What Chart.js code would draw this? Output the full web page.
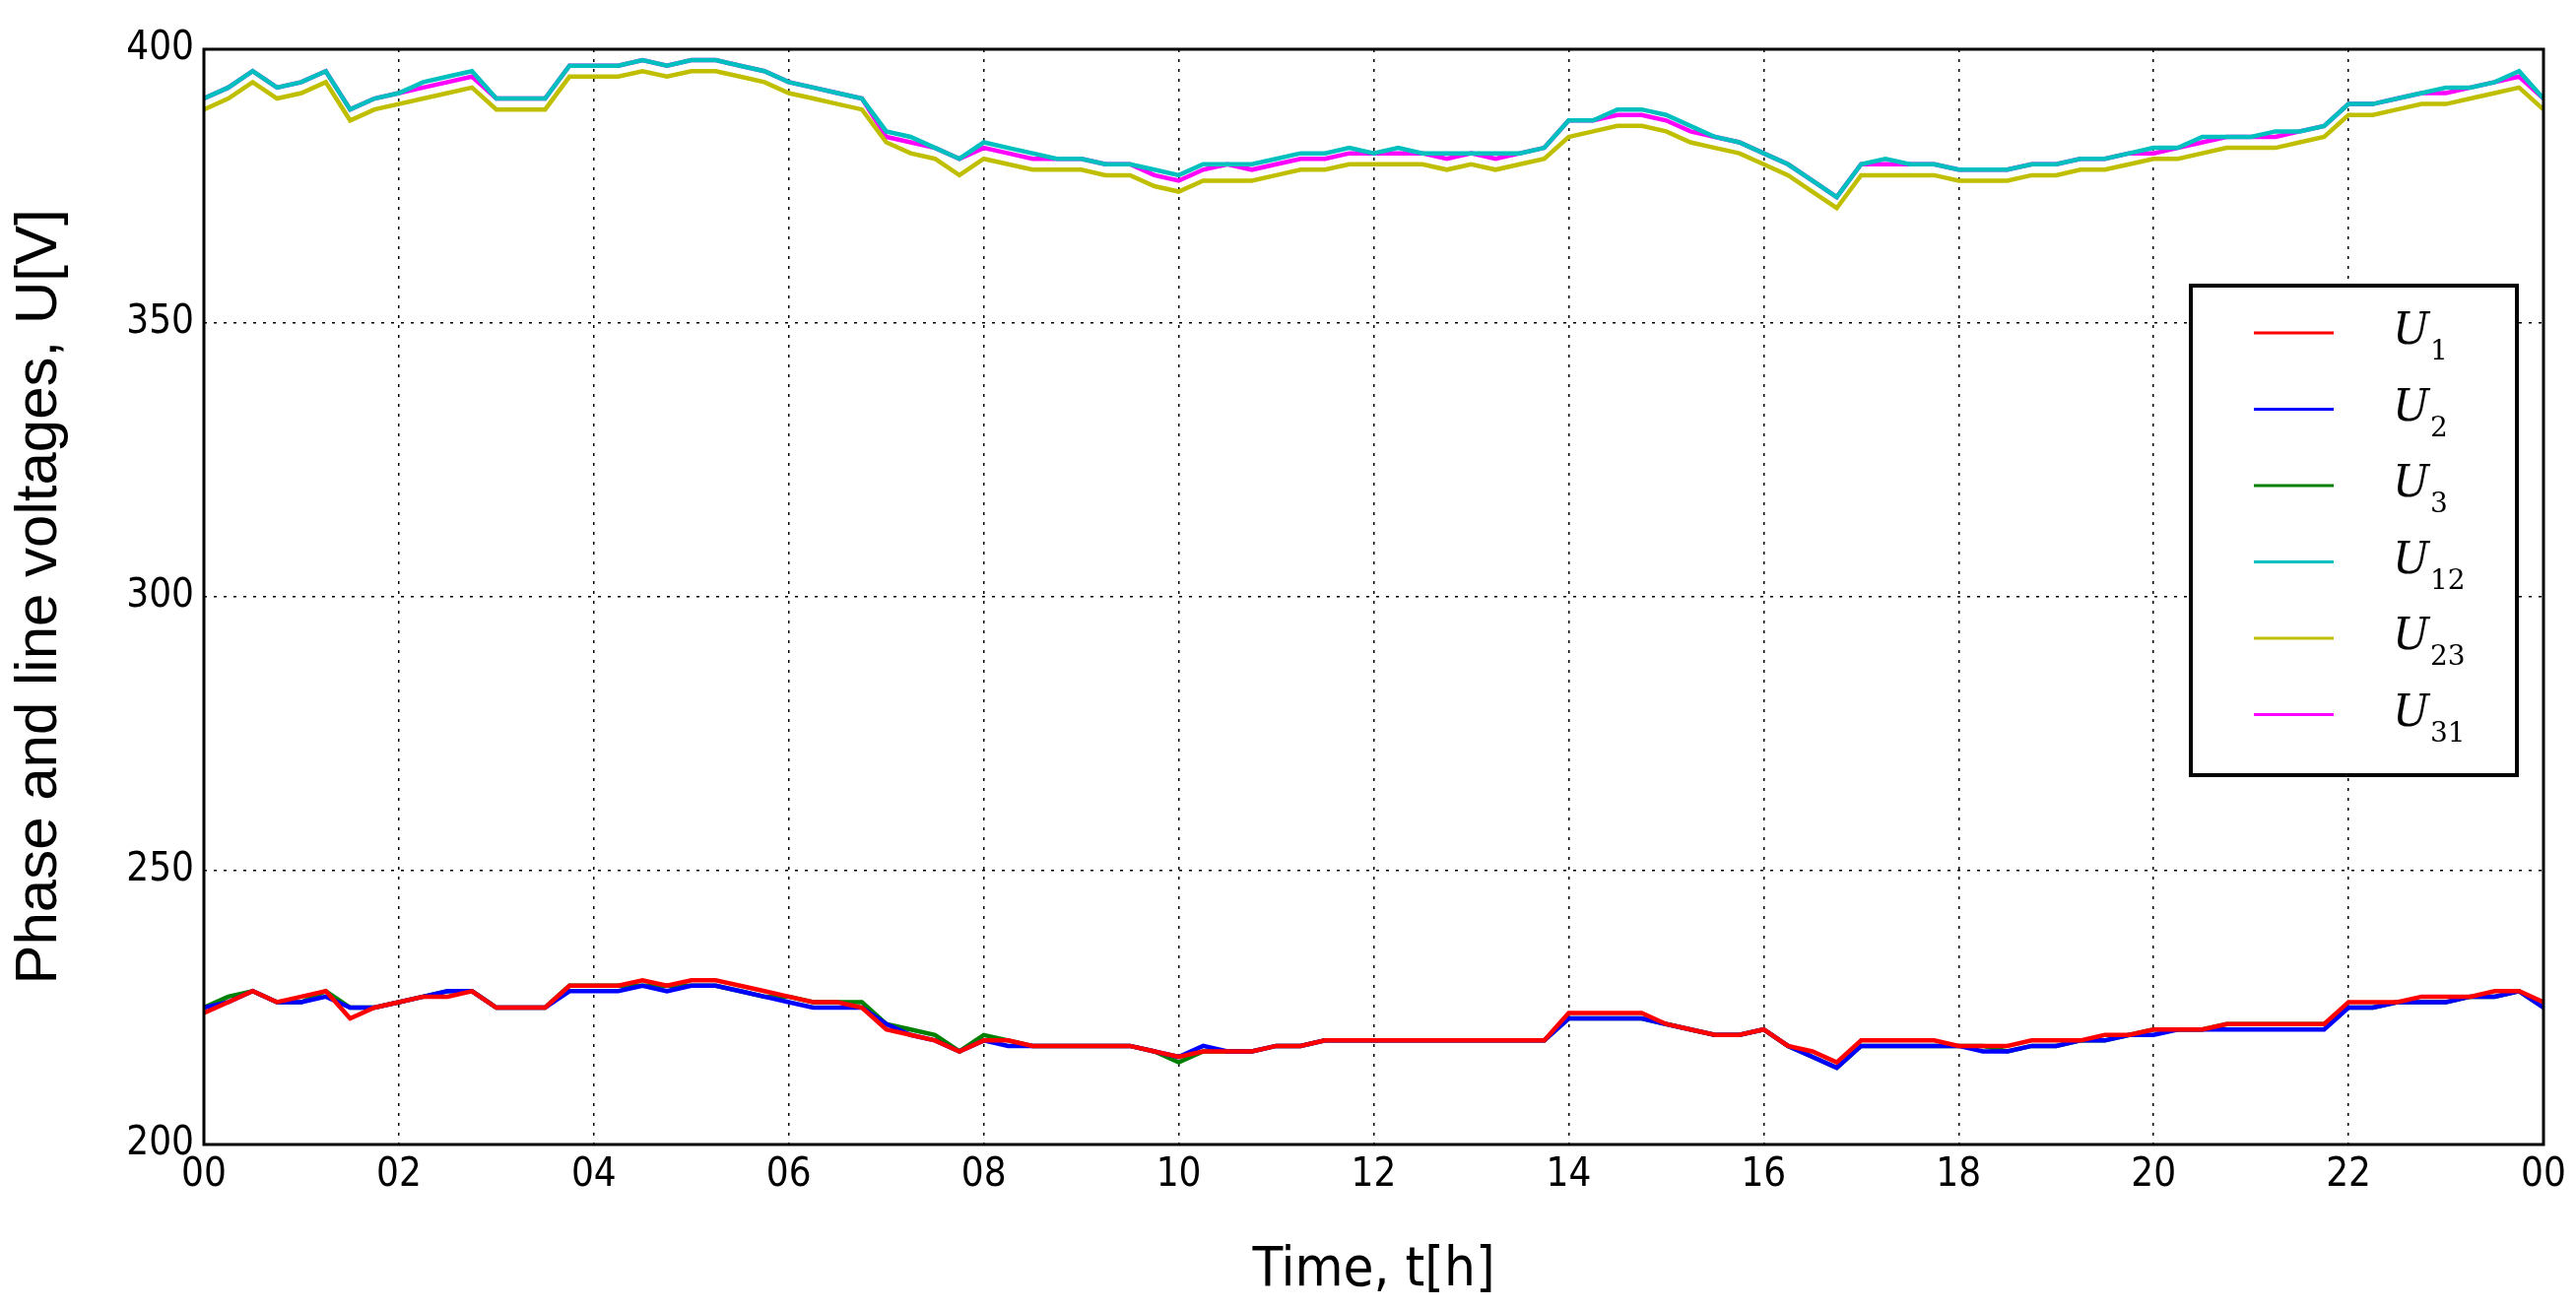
<!DOCTYPE html>
<html><head><meta charset="utf-8">
<script src="https://cdn.jsdelivr.net/npm/chart.js@4/dist/chart.umd.min.js"></script>
<style>html,body{margin:0;padding:0;background:#fff}#w{width:2615px;height:1328px}</style>
</head><body><div id="w"><canvas id="c"></canvas></div>
<script>
const hours = Array.from({length:97},(_, i)=>i*0.25);
const xTickLabels = ['00','02','04','06','08','10','12','14','16','18','20','22','00'];
const seriesNames = [['U','1'],['U','2'],['U','3'],['U','12'],['U','23'],['U','31']];
const seriesColors = ['#ff0000','#0000ff','#008000','#00bfbf','#bfbf00','#ff00ff'];
const U1 = [224,226,228,226,227,228,223,225,226,227,227,228, 225,225,225,229,229,229,230,229,230,230,229,228, 227,226,226,225,221,220,219,217,219,219,218,218, 218,218,218,217,216,217,217,217,218,218,219,219, 219,219,219,219,219,219,219,219,224,224,224,224, 222,221,220,220,221,218,217,215,219,219,219,219, 218,218,218,219,219,219,220,220,221,221,221,222, 222,222,222,222,226,226,226,227,227,227,228,228, 226];
const U2 = [225,226,228,226,226,227,225,225,226,227,228,228, 225,225,225,228,228,228,229,228,229,229,228,227, 226,225,225,225,222,220,219,217,219,218,218,218, 218,218,218,217,216,218,217,217,218,218,219,219, 219,219,219,219,219,219,219,219,223,223,223,223, 222,221,220,220,221,218,216,214,218,218,218,218, 218,217,217,218,218,219,219,220,220,221,221,221, 221,221,221,221,225,225,226,226,226,227,227,228, 225];
const U3 = [225,227,228,226,226,228,225,225,226,227,228,228, 225,225,225,229,229,229,229,229,229,229,228,227, 227,226,226,226,222,221,220,217,220,219,218,218, 218,218,218,217,215,217,217,217,218,218,219,219, 219,219,219,219,219,219,219,219,223,223,223,223, 222,221,220,220,221,218,216,214,218,218,218,218, 218,218,217,218,218,219,219,220,221,221,221,222, 222,222,222,222,225,225,226,226,226,227,227,228, 225];
const U12 = [391,393,396,393,394,396,389,391,392,394,395,396, 391,391,391,397,397,397,398,397,398,398,397,396, 394,393,392,391,385,384,382,380,383,382,381,380, 380,379,379,378,377,379,379,379,380,381,381,382, 381,382,381,381,381,381,381,382,387,387,389,389, 388,386,384,383,381,379,376,373,379,380,379,379, 378,378,378,379,379,380,380,381,382,382,384,384, 384,385,385,386,390,390,391,392,393,393,394,396, 391];
const U23 = [389,391,394,391,392,394,387,389,390,391,392,393, 389,389,389,395,395,395,396,395,396,396,395,394, 392,391,390,389,383,381,380,377,380,379,378,378, 378,377,377,375,374,376,376,376,377,378,378,379, 379,379,379,378,379,378,379,380,384,385,386,386, 385,383,382,381,379,377,374,371,377,377,377,377, 376,376,376,377,377,378,378,379,380,380,381,382, 382,382,383,384,388,388,389,390,390,391,392,393, 389];
const U31 = [391,393,396,393,394,396,389,391,392,393,394,395, 391,391,391,397,397,397,398,397,398,398,397,396, 394,393,392,391,384,383,382,380,382,381,380,380, 380,379,379,377,376,378,379,378,379,380,380,381, 381,381,381,380,381,380,381,382,387,387,388,388, 387,385,384,383,381,379,376,373,379,379,379,379, 378,378,378,379,379,380,380,381,381,382,383,384, 384,384,385,386,390,390,391,392,392,393,394,395, 391];
const yTicks = [200,250,300,350,400];

const series = [U1,U2,U3,U12,U23,U31];
const FONT = '"Liberation Sans Narrow","DejaVu Sans Condensed","Liberation Sans",sans-serif';

const framePlugin = {
  id:'frame',
  afterDraw(chart){
    const {ctx, chartArea:a} = chart;
    ctx.save();
    ctx.strokeStyle='#000'; ctx.lineWidth=3;
    ctx.strokeRect(a.left,a.top,a.right-a.left,a.bottom-a.top);
    const bx=2224, by=290, bw=331, bh=497;
    ctx.fillStyle='#fff'; ctx.fillRect(bx,by,bw,bh);
    ctx.lineWidth=4; ctx.strokeRect(bx,by,bw,bh);
    chart.data.datasets.forEach((ds,i)=>{
      const y = by+48+i*77.5;
      ctx.strokeStyle=ds.borderColor; ctx.lineWidth=3;
      ctx.beginPath(); ctx.moveTo(bx+64,y); ctx.lineTo(bx+145,y); ctx.stroke();
      ctx.fillStyle='#000';
      ctx.font='italic 44px "DejaVu Serif",serif';
      ctx.textBaseline='middle';
      ctx.fillText(seriesNames[i][0], bx+205, y);
      ctx.font='28px "DejaVu Serif",serif';
      ctx.fillText(seriesNames[i][1], bx+243, y+20);
    });
    ctx.restore();
  }
};

new Chart(document.getElementById('c'),{
  type:'line',
  data:{labels:hours, datasets:series.map((d,i)=>({
    label:seriesNames[i].join(''),
    data:d.map((v,j)=>({x:hours[j],y:v})),
    borderColor:seriesColors[i], borderWidth:4.5, pointRadius:0, tension:0, fill:false
  }))},
  options:{
    responsive:true, maintainAspectRatio:false, animation:false,
    layout:{padding:{left:0,right:33,top:50,bottom:0}},
    plugins:{legend:{display:false},tooltip:{enabled:false}},
    scales:{
      x:{type:'linear',min:0,max:24,
        afterFit(s){s.height=166;},
        afterBuildTicks(s){s.ticks=xTickLabels.map((_,i)=>({value:i*2}));},
        ticks:{color:'#000',font:{family:FONT,size:40},padding:8,maxRotation:0,autoSkip:false,
          callback:(v,i)=>xTickLabels[i]},
        grid:{color:'#000',lineWidth:1.5,tickLength:0},
        border:{display:false,dash:[3,7]},
        title:{display:true,text:'Time, t[h]',color:'#000',font:{family:FONT,size:56},padding:{top:0}}
      },
      y:{min:200,max:400,
        afterFit(s){s.width=207;},
        afterBuildTicks(s){s.ticks=yTicks.map(v=>({value:v}));},
        ticks:{color:'#000',font:{family:FONT,size:40},padding:10},
        grid:{color:'#000',lineWidth:1.5,tickLength:0},
        border:{display:false,dash:[3,7]},
        title:{display:true,text:'Phase and line voltages, U[V]',color:'#000',font:{family:'"Liberation Sans",sans-serif',size:60},padding:{bottom:0}}
      }
    }
  },
  plugins:[framePlugin]
});
</script></body></html>
